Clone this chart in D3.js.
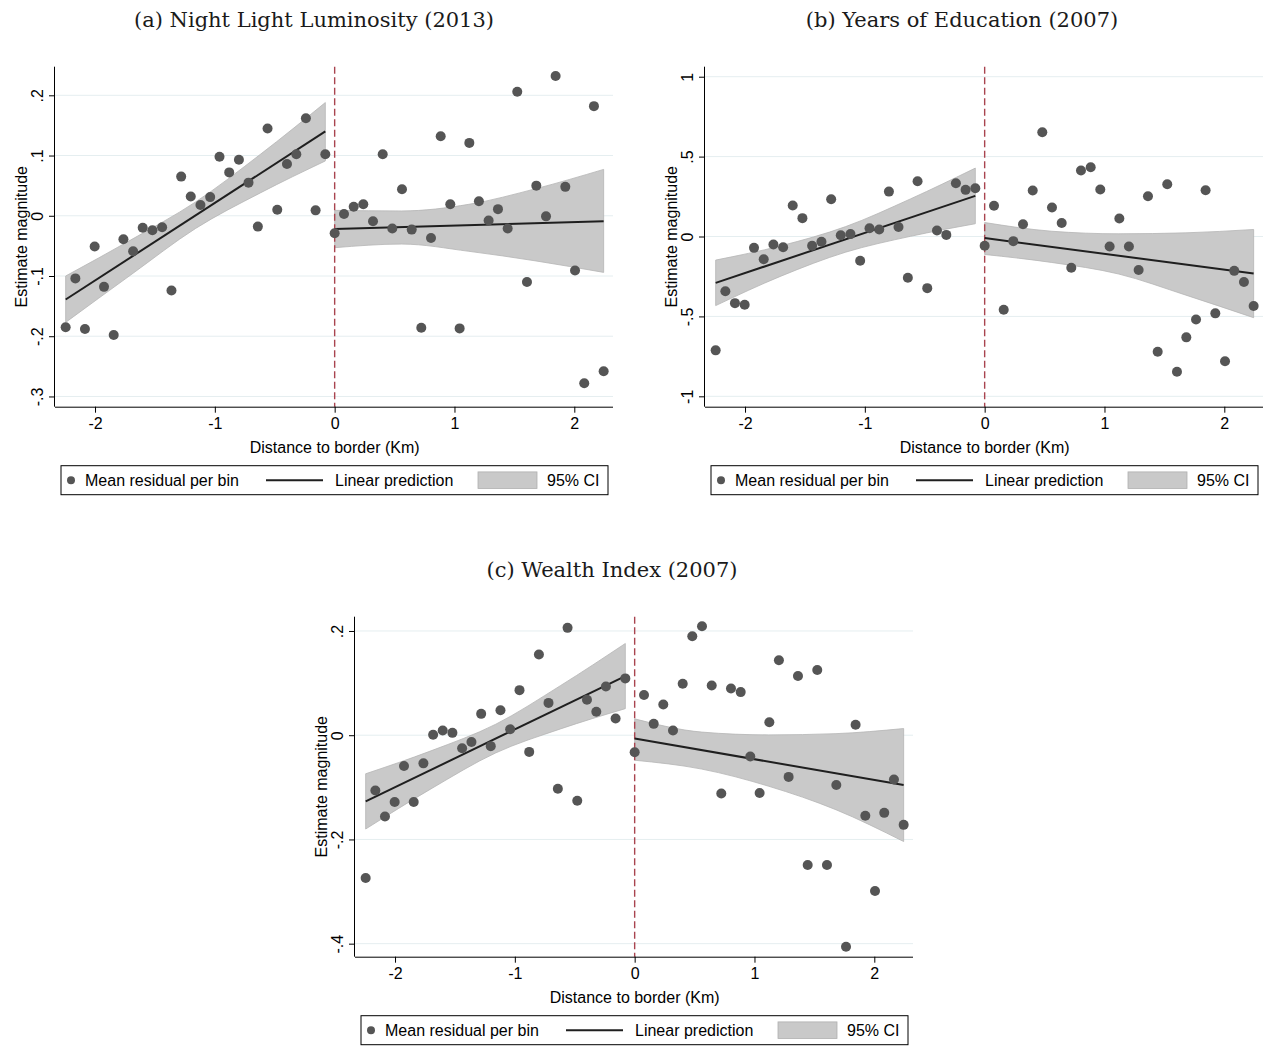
<!DOCTYPE html>
<html><head><meta charset="utf-8">
<script src="https://cdn.jsdelivr.net/npm/d3@7"></script>
<style>body{margin:0;background:#fff} svg{display:block}</style>
</head><body>
<svg id="chart" width="1265" height="1046"></svg>
<script>
// ---------- data ----------
const xTickValues = [-2, -1, 0, 1, 2];
const xTickLabels = ["-2", "-1", "0", "1", "2"];

const binXLeft = [-2.245,-2.164,-2.084,-2.003,-1.925,-1.844,-1.763,-1.682,-1.602,-1.521,-1.440,-1.362,-1.281,-1.201,-1.120,-1.039,-0.961,-0.880,-0.799,-0.719,-0.641,-0.560,-0.479,-0.398,-0.320,-0.240,-0.159,-0.078];
const binXRight = [0,0.078,0.159,0.239,0.320,0.401,0.481,0.562,0.643,0.723,0.804,0.885,0.965,1.043,1.124,1.204,1.285,1.363,1.444,1.524,1.605,1.683,1.764,1.844,1.925,2.006,2.083,2.164,2.245];

const bandXLeft = [-2.245, -1.70, -1.16, -0.62, -0.078];
const bandXRight = [0, 0.56, 1.12, 1.68, 2.245];

// (a) Night light
const nightLeftY = [-0.185,-0.104,-0.188,-0.051,-0.118,-0.198,-0.039,-0.059,-0.020,-0.024,-0.019,-0.124,0.065,0.032,0.018,0.031,0.098,0.072,0.093,0.055,-0.018,0.145,0.010,0.086,0.102,0.162,0.009,0.102];
const nightRightY = [-0.029,0.003,0.015,0.019,-0.009,0.102,-0.021,0.044,-0.023,-0.186,-0.037,0.132,0.019,-0.187,0.121,0.024,-0.008,0.011,-0.021,0.206,-0.110,0.050,-0.001,0.232,0.048,-0.091,-0.278,0.182,-0.258];
const nightFitLeft = [-0.139, 0.140];
const nightFitRight = [-0.022, -0.009];
const nightBandLeftUpper = [-0.100,-0.040,0.023,0.102,0.188];
const nightBandLeftLower = [-0.177,-0.098,-0.021,0.038,0.091];
const nightBandRightUpper = [0.009,0.008,0.019,0.045,0.077];
const nightBandRightLower = [-0.053,-0.047,-0.059,-0.075,-0.094];
const nightYTicks = [-0.3,-0.2,-0.1,0,0.1,0.2];
const nightYTickLabels = ["-.3","-.2","-.1","0",".1",".2"];

// (b) Education
const eduLeftY = [-0.7125,-0.342,-0.417,-0.427,-0.071,-0.142,-0.050,-0.067,0.194,0.115,-0.058,-0.033,0.233,0.008,0.015,-0.152,0.052,0.044,0.281,0.060,-0.258,0.346,-0.323,0.0375,0.010,0.333,0.292,0.302];
const eduRightY = [-0.058,0.192,-0.458,-0.029,0.077,0.2875,0.652,0.181,0.085,-0.196,0.4125,0.433,0.294,-0.0625,0.1125,-0.0625,-0.210,0.252,-0.721,0.327,-0.846,-0.631,-0.519,0.290,-0.481,-0.781,-0.215,-0.285,-0.435];
const eduFitLeft = [-0.290, 0.254];
const eduFitRight = [-0.010, -0.231];
const eduBandLeftUpper = [-0.1475,-0.058,0.062,0.235,0.428];
const eduBandLeftLower = [-0.4325,-0.248,-0.098,0.001,0.080];
const eduBandRightUpper = [0.0875,0.033,0.017,0.023,0.044];
const eduBandRightLower = [-0.1125,-0.1625,-0.235,-0.367,-0.508];
const eduYTicks = [-1,-0.5,0,0.5,1];
const eduYTickLabels = ["-1","-.5","0",".5","1"];

// (c) Wealth
const wealthLeftY = [-0.274,-0.106,-0.156,-0.128,-0.059,-0.128,-0.054,0.001,0.009,0.0045,-0.025,-0.013,0.041,-0.021,0.048,0.0115,0.0865,-0.032,0.155,0.062,-0.1026,0.206,-0.1256,0.068,0.045,0.0936,0.032,0.109];
const wealthRightY = [-0.0327,0.077,0.0218,0.059,0.009,0.0987,0.190,0.209,0.0955,-0.112,0.0897,0.0827,-0.041,-0.111,0.025,0.144,-0.080,0.1135,-0.249,0.125,-0.249,-0.0955,-0.406,0.020,-0.1545,-0.299,-0.149,-0.085,-0.172];
const wealthFitLeft = [-0.127, 0.1135];
const wealthFitRight = [-0.0064, -0.0955];
const wealthBandLeftUpper = [-0.074,-0.030,0.021,0.095,0.176];
const wealthBandLeftLower = [-0.180,-0.103,-0.034,0.012,0.051];
const wealthBandRightUpper = [0.0314,0.006,0.0006,0.003,0.0128];
const wealthBandRightLower = [-0.048,-0.065,-0.098,-0.143,-0.204];
const wealthYTicks = [-0.4,-0.2,0,0.2];
const wealthYTickLabels = ["-.4","-.2","0",".2"];

const titles = ["(a) Night Light Luminosity (2013)", "(b) Years of Education (2007)", "(c) Wealth Index (2007)"];
const legendLabels = ["Mean residual per bin", "Linear prediction", "95% CI"];
const xAxisTitle = "Distance to border (Km)";
const yAxisTitle = "Estimate magnitude";

// ---------- layout ----------
const panels = [
  {title: titles[0], ox: 0, oy: 0, titleX: 314, yDomain: [-0.317, 0.2475],
   leftY: nightLeftY, rightY: nightRightY, fitL: nightFitLeft, fitR: nightFitRight,
   bLU: nightBandLeftUpper, bLL: nightBandLeftLower, bRU: nightBandRightUpper, bRL: nightBandRightLower,
   ticks: nightYTicks, tickLabels: nightYTickLabels},
  {title: titles[1], ox: 650, oy: 0, titleX: 962, yDomain: [-1.065, 1.0626],
   leftY: eduLeftY, rightY: eduRightY, fitL: eduFitLeft, fitR: eduFitRight,
   bLU: eduBandLeftUpper, bLL: eduBandLeftLower, bRU: eduBandRightUpper, bRL: eduBandRightLower,
   ticks: eduYTicks, tickLabels: eduYTickLabels},
  {title: titles[2], ox: 300, oy: 550, titleX: 612, yDomain: [-0.425, 0.2274],
   leftY: wealthLeftY, rightY: wealthRightY, fitL: wealthFitLeft, fitR: wealthFitRight,
   bLU: wealthBandLeftUpper, bLL: wealthBandLeftLower, bRU: wealthBandRightUpper, bRL: wealthBandRightLower,
   ticks: wealthYTicks, tickLabels: wealthYTickLabels}
];

const L = 55, R = 613, T = 66.7, B = 406.7;
const SANS = "'Liberation Sans', Arial, Helvetica, sans-serif";
const SERIF = "'DejaVu Serif', serif";
const svg = d3.select("#chart");

panels.forEach(p => {
  const g = svg.append("g").attr("transform", `translate(${p.ox},${p.oy})`);
  const x = d3.scaleLinear().domain([-2.334, 2.323]).range([L, R]);
  const y = d3.scaleLinear().domain(p.yDomain).range([B, T]);

  // title
  svg.append("text").attr("x", p.titleX).attr("y", p.oy + 27)
    .attr("text-anchor", "middle").attr("font-family", SERIF).attr("font-size", 21)
    .attr("fill", "#1a1a1a").text(p.title);

  // grid
  g.append("g").selectAll("line").data(p.ticks).join("line")
    .attr("x1", L).attr("x2", R).attr("y1", d => y(d)).attr("y2", d => y(d))
    .attr("stroke", "#e5eef0").attr("stroke-width", 1);

  // bands
  const area = d3.area().x(d => x(d[0])).y0(d => y(d[1])).y1(d => y(d[2])).curve(d3.curveMonotoneX);
  const bandL = bandXLeft.map((v, i) => [v, p.bLL[i], p.bLU[i]]);
  const bandR = bandXRight.map((v, i) => [v, p.bRL[i], p.bRU[i]]);
  [bandL, bandR].forEach(bd => {
    g.append("path").attr("d", area(bd)).attr("fill", "#c9c9c9")
      .attr("stroke", "#b5b5b5").attr("stroke-width", 0.8);
  });

  // vertical dashed line at border
  g.append("line").attr("x1", x(0)).attr("x2", x(0)).attr("y1", T).attr("y2", B)
    .attr("stroke", "#a9444f").attr("stroke-width", 1.4).attr("stroke-dasharray", "7,3.5");

  // fit lines
  const line = d3.line().x(d => x(d[0])).y(d => y(d[1]));
  g.append("path").attr("d", line([[binXLeft[0], p.fitL[0]], [binXLeft[binXLeft.length-1], p.fitL[1]]]))
    .attr("stroke", "#1f1f1f").attr("stroke-width", 2).attr("fill", "none");
  g.append("path").attr("d", line([[binXRight[0], p.fitR[0]], [binXRight[binXRight.length-1], p.fitR[1]]]))
    .attr("stroke", "#1f1f1f").attr("stroke-width", 2).attr("fill", "none");

  // points
  const pts = binXLeft.map((v, i) => [v, p.leftY[i]]).concat(binXRight.map((v, i) => [v, p.rightY[i]]));
  g.append("g").selectAll("circle").data(pts).join("circle")
    .attr("cx", d => x(d[0])).attr("cy", d => y(d[1])).attr("r", 5).attr("fill", "#555555");

  // axes
  const xAxis = d3.axisBottom(x).tickValues(xTickValues).tickFormat((d, i) => xTickLabels[i]).tickSize(6).tickSizeOuter(0);
  const xg = g.append("g").attr("transform", `translate(0,${B})`).call(xAxis);
  xg.select(".domain").attr("d", `M${L},0.5H${R}`).attr("stroke", "#000");
  xg.selectAll(".tick text").attr("font-family", SANS).attr("font-size", 16).attr("fill", "#000").attr("dy", 0).attr("y", 22);

  const yAxis = d3.axisLeft(y).tickValues(p.ticks).tickFormat((d, i) => p.tickLabels[i]).tickSize(6).tickSizeOuter(0);
  const yg = g.append("g").attr("transform", `translate(${L},0)`).call(yAxis);
  yg.select(".domain").attr("d", `M-0.5,${T}V${B}`).attr("stroke", "#000");
  yg.selectAll(".tick text").attr("font-family", SANS).attr("font-size", 16).attr("fill", "#000")
    .attr("x", 0).attr("dy", 0).attr("text-anchor", "middle")
    .attr("transform", "translate(-12,0) rotate(-90)");

  // axis titles
  g.append("text").attr("x", x(0)).attr("y", B + 46.5).attr("text-anchor", "middle")
    .attr("font-family", SANS).attr("font-size", 16).attr("fill", "#000").text(xAxisTitle);
  g.append("text").attr("transform", `translate(27,${(T + B) / 2}) rotate(-90)`).attr("text-anchor", "middle")
    .attr("font-family", SANS).attr("font-size", 16).attr("fill", "#000").text(yAxisTitle);

  // legend
  const lx = 61, ly = 465.7, lw = 547, lh = 29;
  const lg = g.append("g");
  lg.append("rect").attr("x", lx).attr("y", ly).attr("width", lw).attr("height", lh)
    .attr("fill", "#fff").attr("stroke", "#000").attr("stroke-width", 1);
  const cy = ly + lh / 2;
  lg.append("circle").attr("cx", lx + 10).attr("cy", cy).attr("r", 4).attr("fill", "#555555");
  lg.append("text").attr("x", lx + 24).attr("y", cy + 6).attr("font-family", SANS).attr("font-size", 16).text(legendLabels[0]);
  lg.append("line").attr("x1", lx + 205).attr("x2", lx + 262).attr("y1", cy).attr("y2", cy)
    .attr("stroke", "#1f1f1f").attr("stroke-width", 2);
  lg.append("text").attr("x", lx + 274).attr("y", cy + 6).attr("font-family", SANS).attr("font-size", 16).text(legendLabels[1]);
  lg.append("rect").attr("x", lx + 417).attr("y", cy - 8.3).attr("width", 59).attr("height", 16.6)
    .attr("fill", "#c9c9c9").attr("stroke", "#b0b0b0").attr("stroke-width", 0.8);
  lg.append("text").attr("x", lx + 486).attr("y", cy + 6).attr("font-family", SANS).attr("font-size", 16).text(legendLabels[2]);
});
</script>
</body></html>
